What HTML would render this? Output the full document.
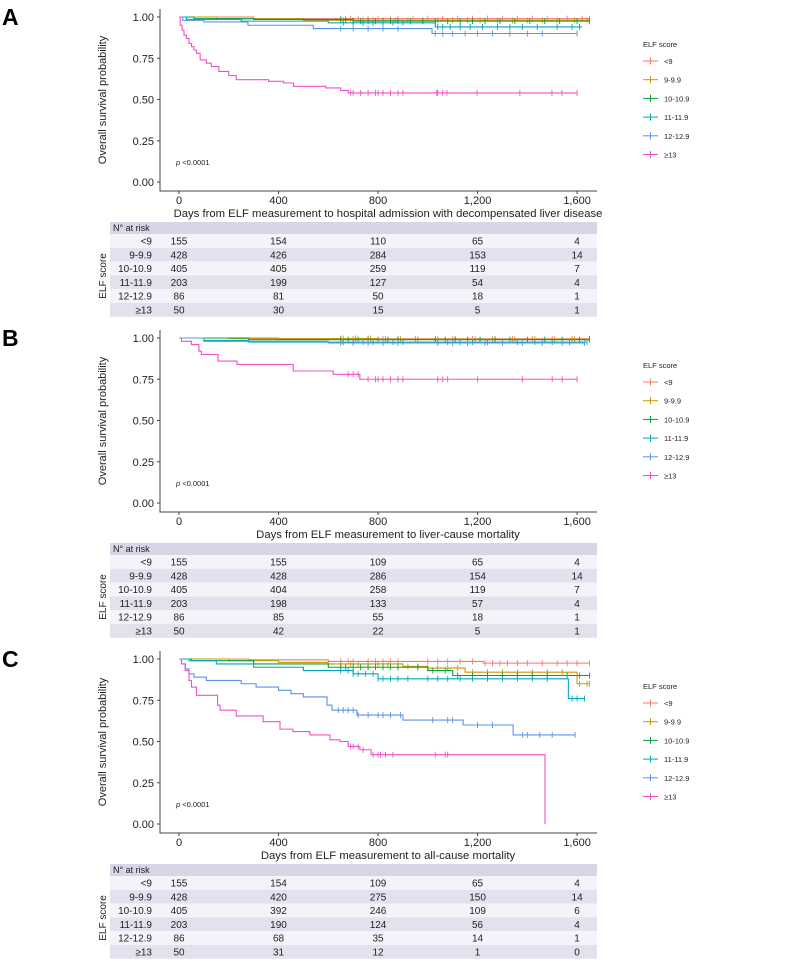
<!DOCTYPE html>
<html><head><meta charset="utf-8"><style>
html,body{margin:0;padding:0;background:#fff}
svg{display:block;font-family:"Liberation Sans",sans-serif}
</style></head><body>
<svg id="fig" width="787" height="962" viewBox="0 0 787 962" xmlns="http://www.w3.org/2000/svg"></svg>
<script>
const groups = ["<9","9-9.9","10-10.9","11-11.9","12-12.9","≥13"];
const colors = ["#F8766D","#C49A00","#00A43A","#00A9B8","#5B93E8","#F050C8"];
const xTicks = [0,400,800,1200,1600];
const xTickLabels = ["0","400","800","1,200","1,600"];
const yTicks = [0,0.25,0.5,0.75,1];
const yTickLabels = ["0.00","0.25","0.50","0.75","1.00"];
const panelLetters = ["A","B","C"];
const xTitles = ["Days from ELF measurement to hospital admission with decompensated liver disease","Days from ELF measurement to liver-cause mortality","Days from ELF measurement to all-cause mortality"];
const riskTimes = [0,400,800,1200,1600];
const riskA = [[155,154,110,65,4],[428,426,284,153,14],[405,405,259,119,7],[203,199,127,54,4],[86,81,50,18,1],[50,30,15,5,1]];
const riskB = [[155,155,109,65,4],[428,428,286,154,14],[405,404,258,119,7],[203,198,133,57,4],[86,85,55,18,1],[50,42,22,5,1]];
const riskC = [[155,154,109,65,4],[428,420,275,150,14],[405,392,246,109,6],[203,190,124,56,4],[86,68,35,14,1],[50,31,12,1,0]];
// step curves: event times, survival after each step, end of follow-up
const timesA = [[300],[150,500],[60,300,700],[30,250,600,1030],[15,100,277,540,1017],[5,12,20,30,40,50,60,70,85,110,130,160,200,230,360,420,460,590,650,680]];
const survA = [[0.99],[0.99,0.98],[0.99,0.985,0.975],[0.985,0.975,0.965,0.94],[0.98,0.97,0.95,0.93,0.90],[0.95,0.92,0.89,0.87,0.84,0.82,0.80,0.78,0.74,0.72,0.70,0.67,0.645,0.62,0.61,0.60,0.58,0.57,0.555,0.54]];
const endA = [1650,1650,1650,1620,1600,1600];
const censA = [[650,690,720,760,800,850,880,940,1000,1060,1120,1180,1240,1300,1360,1420,1480,1560,1620,1650],[660,700,740,780,820,870,920,980,1040,1100,1160,1210,1280,1340,1400,1460,1520,1590,1640],[650,670,700,730,760,790,820,850,880,930,980,1030,1080,1130,1180,1230,1290,1350,1410,1470,1530,1600,1650],[660,700,740,780,820,860,900,1040,1060,1090,1130,1170,1220,1280,1330,1380,1440,1520,1580,1610],[650,700,760,820,880,1030,1060,1100,1150,1200,1260,1330,1400,1460,1600],[690,700,730,760,790,800,820,850,880,900,1036,1040,1060,1077,1198,1370,1499,1539,1600]];
const timesB = [[400],[200,800],[280],[100,280],[100,600],[10,50,80,90,157,233,459,620,727]];
const survB = [[0.995],[0.997,0.993],[0.99],[0.985,0.975],[0.98,0.97],[0.98,0.96,0.92,0.90,0.86,0.84,0.80,0.78,0.75]];
const endB = [1650,1650,1650,1640,1630,1600];
const censB = [[650,700,760,820,880,950,1030,1100,1180,1260,1340,1420,1500,1580,1650],[660,710,770,830,890,960,1040,1110,1190,1270,1350,1430,1510,1590,1650],[650,680,720,760,800,840,880,1030,1070,1110,1160,1210,1270,1330,1400,1470,1540,1610,1650],[660,700,740,780,820,860,900,1040,1080,1130,1180,1240,1300,1360,1430,1500,1570,1640],[650,700,760,820,880,1040,1100,1160,1230,1300,1380,1460,1540,1630],[680,700,720,760,790,800,820,850,880,900,1040,1060,1080,1200,1380,1500,1540,1600]];
const timesC = [[280,600,1222],[200,400,600,900,1000,1150,1600],[50,300,600,1000,1100],[40,150,300,500,700,800,1565],[10,25,40,60,110,250,310,400,450,500,595,615,715,900,1142,1343],[10,25,40,50,70,155,165,230,338,406,458,526,607,647,680,727,772,1471]];
const survC = [[0.995,0.985,0.975],[0.99,0.98,0.97,0.955,0.945,0.92,0.85],[0.99,0.97,0.95,0.93,0.90],[0.99,0.97,0.95,0.93,0.91,0.88,0.76],[0.97,0.94,0.91,0.89,0.87,0.85,0.83,0.81,0.79,0.77,0.72,0.69,0.66,0.63,0.60,0.54],[0.97,0.93,0.87,0.83,0.78,0.72,0.69,0.655,0.62,0.575,0.56,0.54,0.51,0.50,0.47,0.45,0.42,0]];
const endC = [1650,1650,1650,1630,1592,1471];
const censC = [[650,680,700,760,790,820,850,880,1000,1040,1080,1130,1180,1230,1260,1290,1320,1360,1400,1460,1520,1560,1600,1650],[650,690,720,760,800,840,880,920,960,1000,1040,1080,1120,1180,1240,1300,1360,1420,1480,1540,1610,1640,1650],[650,670,700,730,760,790,820,850,880,960,1020,1070,1120,1180,1240,1300,1360,1420,1480,1560,1610,1650],[650,680,700,720,750,780,800,820,850,880,920,1000,1040,1080,1130,1180,1240,1300,1360,1420,1480,1580,1600,1630],[640,660,680,700,720,760,800,820,850,890,1020,1080,1100,1200,1260,1380,1400,1450,1500,1592],[690,700,720,740,780,800,810,830,860,1030,1070,1080]];

const panels = [[timesA,survA,endA,censA,riskA],[timesB,survB,endB,censB,riskB],[timesC,survC,endC,censC,riskC]];
const NS="http://www.w3.org/2000/svg";
const svg=document.getElementById('fig');
function mk(tag,attrs,parent){const e=document.createElementNS(NS,tag);for(const k in attrs)e.setAttribute(k,attrs[k]);(parent||svg).appendChild(e);return e;}
const X0=179, XS=0.2488;
function xs(d){return X0+d*XS;}
panels.forEach((p,pi)=>{
  const off=pi*321;
  const ys=v=>off+182-v*165;
  const g=mk('g',{});
  
  
  const L=mk('text',{x:2,y:off+25,'font-size':23,'font-weight':'bold'},g);L.textContent=panelLetters[pi];
  
  
  // axes
  const ax=mk('path',{d:`M160 ${off+9} V${off+191} H597`,stroke:'#444',fill:'none','stroke-width':1},g);
  
  
  yTicks.forEach((v,i)=>{
    mk('line',{x1:157,x2:160,y1:ys(v),y2:ys(v),stroke:'#444'},g);
    const t=mk('text',{x:154,y:ys(v)+4,'font-size':11,'text-anchor':'end',fill:'#222'},g);t.textContent=yTickLabels[i];
    
    
  });
  xTicks.forEach((v,i)=>{
    mk('line',{x1:xs(v),x2:xs(v),y1:off+191,y2:off+194,stroke:'#444'},g);
    const t=mk('text',{x:xs(v),y:off+204,'font-size':11,'text-anchor':'middle',fill:'#222'},g);t.textContent=xTickLabels[i];
    
    
  });
  const yt=mk('text',{x:0,y:0,'font-size':11,'text-anchor':'middle',transform:`translate(106 ${off+100}) rotate(-90)`,fill:'#222'},g);yt.textContent='Overall survival probability';
  
  
  const xt=mk('text',{x:388,y:off+217,'font-size':11.3,'text-anchor':'middle',fill:'#222'},g);xt.textContent=xTitles[pi];
  
  
  const pv=mk('text',{x:176,y:off+165,'font-size':7.5,fill:'#222'},g);pv.innerHTML='<tspan font-style="italic">p</tspan> &lt;0.0001';
  
  
  // curves
  const [T,S,E,C,R]=p;
  for(let gi=0;gi<6;gi++){
    let d=`M${xs(0)} ${ys(1)}`;let cur=1;
    T[gi].forEach((t,k)=>{d+=` H${xs(t)} V${ys(S[gi][k])}`;cur=S[gi][k];});
    d+=` H${xs(E[gi])}`;
    const c=mk('path',{d:d,stroke:colors[gi],fill:'none','stroke-width':1.1},g);
    
    
    const survAt=t=>{let v=1;T[gi].forEach((tt,k)=>{if(tt<=t)v=S[gi][k];});return v;};
    C[gi].forEach(t=>{
      const cy=ys(survAt(t));
      const m=mk('line',{x1:xs(t),x2:xs(t),y1:cy-3,y2:cy+3,stroke:colors[gi],'stroke-width':0.9},g);
      
      
    });
  }
  // legend
  const lt=mk('text',{x:643,y:off+47,'font-size':7.5,fill:'#222'},g);lt.textContent='ELF score';
  
  
  groups.forEach((gn,i)=>{
    const y=off+61+i*18.7;
    const le=mk('g',{},g);
    
    
    mk('line',{x1:643,x2:658,y1:y,y2:y,stroke:colors[i]},le);
    mk('line',{x1:650.5,x2:650.5,y1:y-3.5,y2:y+3.5,stroke:colors[i]},le);
    const t=mk('text',{x:664,y:y+3,'font-size':7.5,fill:'#222'},le);t.textContent=gn;
  });
  // risk table
  const tb=mk('g',{},g);
  
  
  mk('rect',{x:110,y:off+222,width:487,height:12,fill:'#d8d5e6'},tb);
  const h=mk('text',{x:113,y:off+231,'font-size':9,fill:'#222'},tb);h.textContent='N° at risk';
  groups.forEach((gn,i)=>{
    const y=off+234+i*13.8;
    mk('rect',{x:110,y:y,width:487,height:13.8,fill:i%2?'#e3e1ed':'#f4f3f9'},tb);
    const lab=mk('text',{x:152,y:y+10.5,'font-size':10,'text-anchor':'end',fill:'#222'},tb);lab.textContent=gn;
    R[i].forEach((v,k)=>{
      const t=mk('text',{x:xs(riskTimes[k]),y:y+10.5,'font-size':10,'text-anchor':'middle',fill:'#222'},tb);t.textContent=v;
    });
  });
  const el=mk('text',{x:0,y:0,'font-size':10,'text-anchor':'middle',transform:`translate(106 ${off+276}) rotate(-90)`,fill:'#222'},tb);el.textContent='ELF score';
});
</script>
</body></html>
